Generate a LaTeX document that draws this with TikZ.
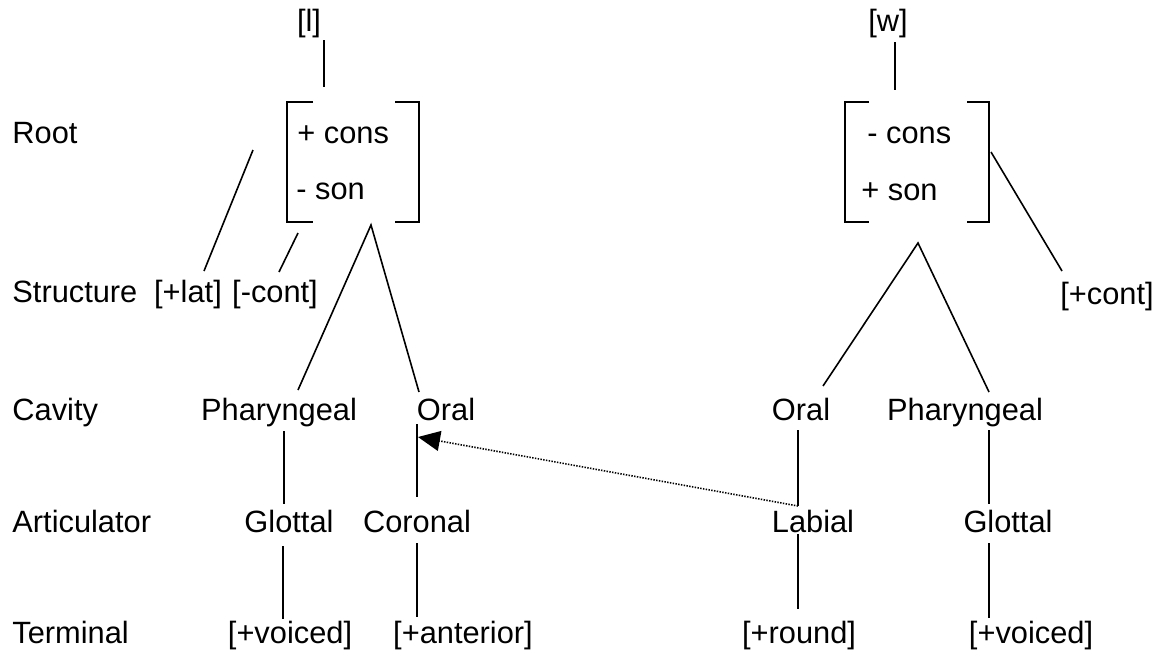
\documentclass[tikz,border=0pt]{standalone}
\usepackage{fontspec}
\setmainfont{Liberation Sans}
\usetikzlibrary{arrows.meta}

\begin{document}
\begin{tikzpicture}[x=0.5pt, y=-0.5pt,
    lbl/.style={anchor=base, inner sep=0pt, font=\fontsize{15.4}{18}\selectfont},
    tier/.style={lbl, anchor=base west},
    branch/.style={line width=0.8pt},
    brack/.style={line width=0.9pt},
    spread/.style={dash pattern=on 0.7pt off 0.7pt, line width=0.8pt,
                   -{Triangle[length=11pt,width=10pt]}}
  ]
  \useasboundingbox (0,0) rectangle (1160,653);

  % tier names
  \node[tier] (tRoot)   at (12,143) {Root};
  \node[tier] (tStruct) at (12,302) {Structure};
  \node[tier] (tCav)    at (12,420) {Cavity};
  \node[tier] (tArt)    at (12,532) {Articulator};
  \node[tier] (tTerm)   at (12,643) {Terminal};

  % [l]
  \node[lbl] (segL) at (309,32) {[l]};
  \node[tier] (consL) at (297,143) {+ cons};
  \node[tier] (sonL)  at (296,199) {- son};
  \draw[brack] (313,102) -- (287,102) -- (287,222) -- (313,222);
  \draw[brack] (395,102) -- (419,102) -- (419,222) -- (395,222);
  \node[lbl] (lat)    at (188,302) {[+lat]};
  \node[lbl] (contL)  at (275,302) {[-cont]};
  \node[lbl] (pharL)  at (279,420) {Pharyngeal};
  \node[lbl] (oralL)  at (446,420) {Oral};
  \node[lbl] (glotL)  at (289,532) {Glottal};
  \node[lbl] (cor)    at (417,532) {Coronal};
  \node[lbl] (voiL)   at (290,643) {[+voiced]};
  \node[lbl] (ant)    at (463,643) {[+anterior]};

  % [w]
  \node[lbl] (segW) at (888,32) {[w]};
  \node[tier] (consW) at (867,143) {- cons};
  \node[tier] (sonW)  at (861,200) {+ son};
  \draw[brack] (869,102) -- (845,102) -- (845,222) -- (869,222);
  \draw[brack] (967,102) -- (989,102) -- (989,222) -- (967,222);
  \node[lbl] (contW)  at (1107,304) {[+cont]};
  \node[lbl] (oralW)  at (801,420) {Oral};
  \node[lbl] (pharW)  at (965,420) {Pharyngeal};
  \node[lbl] (lab)    at (813,532) {Labial};
  \node[lbl] (glotW)  at (1008,532) {Glottal};
  \node[lbl] (rnd)    at (799,643) {[+round]};
  \node[lbl] (voiW)   at (1031,643) {[+voiced]};

  % line ends
  \coordinate (segL-b)  at (324,40);  \coordinate (rootL-t) at (324,87);
  \coordinate (rootL-w) at (253,150); \coordinate (lat-t)   at (204,271);
  \coordinate (rootL-s) at (298,233); \coordinate (contL-t) at (279,272);
  \coordinate (rootL-b) at (371,225);
  \coordinate (pharL-t) at (298,390); \coordinate (oralL-t) at (419,392);
  \coordinate (pharL-b) at (284,431); \coordinate (glotL-t) at (284,504);
  \coordinate (glotL-b) at (283,546); \coordinate (voiL-t)  at (283,619);
  \coordinate (oralL-b) at (417,424); \coordinate (cor-t)   at (417,497);
  \coordinate (cor-b)   at (417,543); \coordinate (ant-t)   at (417,617);
  \coordinate (oralL-p) at (418,437);

  \coordinate (segW-b)  at (895,42);  \coordinate (rootW-t) at (895,90);
  \coordinate (rootW-e) at (991,152); \coordinate (contW-t) at (1062,271);
  \coordinate (rootW-b) at (918,243);
  \coordinate (oralW-t) at (823,386); \coordinate (pharW-t) at (989,392);
  \coordinate (oralW-b) at (798,430); \coordinate (lab-t)   at (798,506);
  \coordinate (lab-b)   at (798,534); \coordinate (rnd-t)   at (798,609);
  \coordinate (pharW-b) at (989,430); \coordinate (glotW-t) at (989,504);
  \coordinate (glotW-b) at (989,543); \coordinate (voiW-t)  at (989,618);

  % association lines
  \draw[branch] (segL-b) -- (rootL-t);
  \draw[branch] (rootL-w) -- (lat-t);
  \draw[branch] (rootL-s) -- (contL-t);
  \draw[branch] (pharL-t) -- (rootL-b) -- (oralL-t);
  \draw[branch] (pharL-b) -- (glotL-t);
  \draw[branch] (glotL-b) -- (voiL-t);
  \draw[branch] (oralL-b) -- (cor-t);
  \draw[branch] (cor-b) -- (ant-t);

  \draw[branch] (segW-b) -- (rootW-t);
  \draw[branch] (rootW-e) -- (contW-t);
  \draw[branch] (oralW-t) -- (rootW-b) -- (pharW-t);
  \draw[branch] (oralW-b) -- (lab-t);
  \draw[branch] (lab-b) -- (rnd-t);
  \draw[branch] (pharW-b) -- (glotW-t);
  \draw[branch] (glotW-b) -- (voiW-t);

  % spreading
  \draw[spread] (lab-t) -- (oralL-p);
\end{tikzpicture}
\end{document}
